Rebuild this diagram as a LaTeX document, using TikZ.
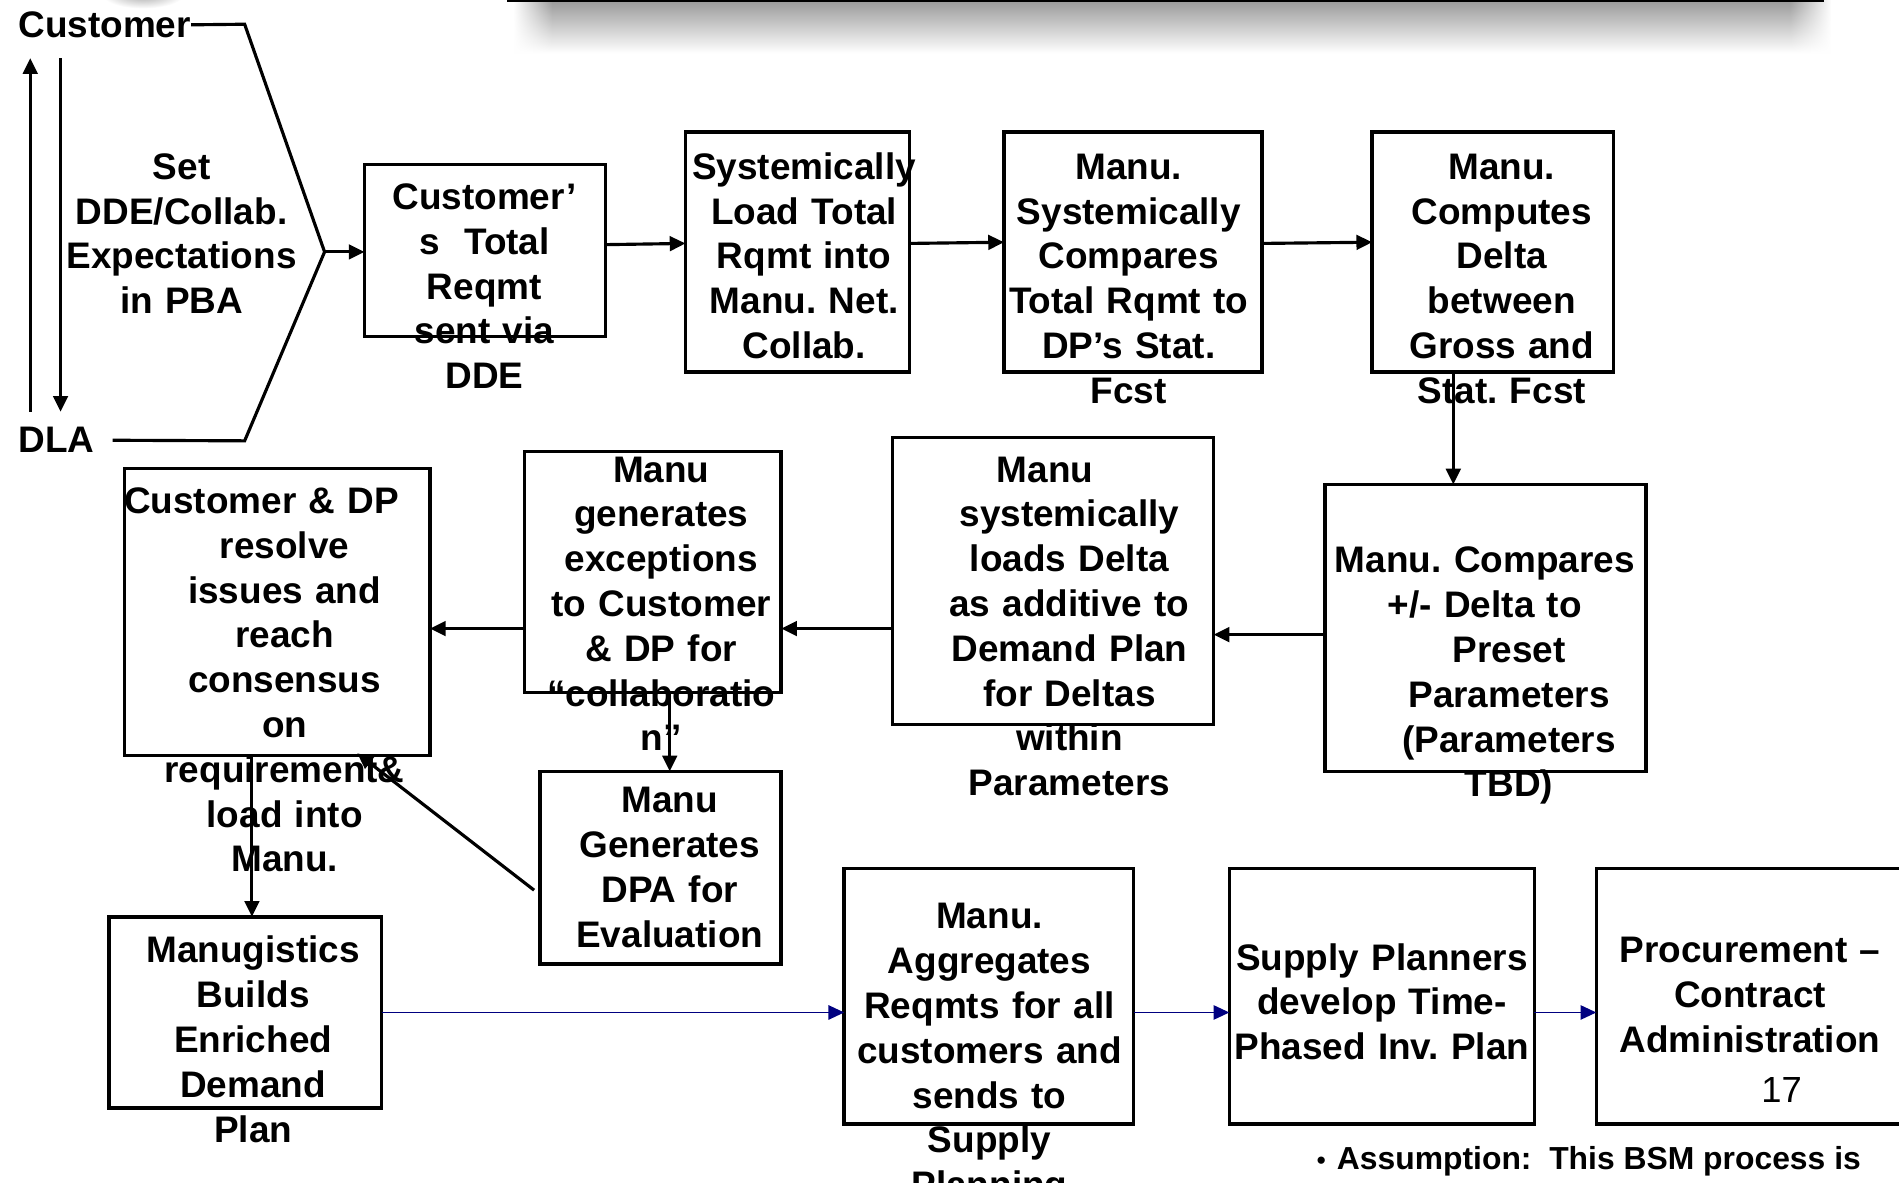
\documentclass[tikz,border=0pt]{standalone}
\usepackage{fontspec}
\setmainfont{Liberation Sans}
\usetikzlibrary{arrows.meta,fadings}
\definecolor{navyc}{RGB}{0,0,128}
\tikzfading[name=fadeL, left color=transparent!100, right color=transparent!0]
\tikzfading[name=fadeR, left color=transparent!0, right color=transparent!100]
\frenchspacing
\begin{document}
\begin{tikzpicture}[x=1pt,y=-1pt,
  boxn/.style={draw, line width=2.8pt, inner sep=0pt, outer sep=0pt, anchor=north west},
  txt/.style={font=\fontsize{30.5}{37}\selectfont\bfseries, text width=420pt, align=center, anchor=base, inner sep=0pt},
  lbl/.style={font=\fontsize{30.5}{37}\selectfont\bfseries, anchor=base west, inner sep=0pt},
  arr/.style={line width=2.6pt, -{Triangle[length=13pt,width=12pt]}},
  thinarr/.style={draw=navyc, line width=1pt, -{Triangle[length=13pt,width=12pt]}, fill=navyc},
  chev/.style={line width=2.6pt, line join=miter}]
\useasboundingbox (0,0) rectangle (1568,976);
\fill[white] (0,0) rectangle (1568,976);
% top shadow bar
\shade[top color=black!40, bottom color=white] (456,0) rectangle (1478,44);
\shade[top color=black!40, bottom color=white, path fading=fadeL] (424,0) rectangle (456,44);
\shade[top color=black!40, bottom color=white, path fading=fadeR] (1478,0) rectangle (1512,44);
\draw[line width=3pt] (419,0.5) -- (1506,0.5);
% top-left gray blob
\shade[inner color=gray!70, outer color=white] (118,-5) ellipse [x radius=34pt, y radius=12pt];

% left labels and chevron
\node[lbl] (cust) at (15,31) {Customer};
\node[lbl] (dla) at (15,374) {DLA};
\coordinate (c1) at (202,20);
\coordinate (tip) at (268,208);
\coordinate (c2) at (202,364);
\draw[chev] (cust.east) -- (c1) -- (tip) -- (c2) -- ([xshift=15pt]dla.east);
\coordinate (up0) at (25,340); \coordinate (up1) at (25,48);
\coordinate (dn0) at (50,48); \coordinate (dn1) at (50,340);
\draw[arr] (up0) -- (up1);
\draw[arr] (dn0) -- (dn1);
\node[txt] (settxt) at (150,148) {Set\\DDE/Collab.\\Expectations\\in PBA};

% boxes
\node[boxn, minimum width=199pt, minimum height=142pt] (A) at (301,136) {};
\node[boxn, minimum width=185pt, minimum height=198pt] (B) at (566,109) {};
\node[boxn, minimum width=213pt, minimum height=198pt] (C) at (829,109) {};
\node[boxn, minimum width=199pt, minimum height=198pt] (D) at (1133,109) {};
\node[boxn, minimum width=265pt, minimum height=237pt] (E) at (1094,400) {};
\node[boxn, minimum width=265pt, minimum height=237pt] (F) at (737,361) {};
\node[boxn, minimum width=212pt, minimum height=199pt] (G) at (433,373) {};
\node[boxn, minimum width=252pt, minimum height=237pt] (H) at (103,387) {};
\node[boxn, minimum width=199pt, minimum height=159pt] (I) at (446,637) {};
\node[boxn, minimum width=225pt, minimum height=158pt] (J) at (90,757) {};
\node[boxn, minimum width=239pt, minimum height=211pt] (K) at (697,717) {};
\node[boxn, minimum width=252pt, minimum height=211pt] (L) at (1015,717) {};
\node[boxn, minimum width=270pt, minimum height=211pt] (M) at (1318,717) {};

% texts
\node[txt] (tA) at (400,173) {Customer’\\s\ \ Total\\Reqmt\\sent via\\DDE};
\node[txt] (tB) at (664,148) {Systemically\\Load Total\\Rqmt into\\Manu. Net.\\Collab.};
\node[txt] (tC) at (932,148) {Manu.\\Systemically\\Compares\\Total Rqmt to\\DP’s Stat.\\Fcst};
\node[txt] (tD) at (1240,148) {Manu.\\Computes\\Delta\\between\\Gross and\\Stat. Fcst};
\node[txt] (tE) at (1246,473) {Manu. Compares\kern40pt\\+/- Delta to\kern40pt\\Preset\\Parameters\\(Parameters\\TBD)};
\node[txt] (tF) at (883,398) {Manu\kern40pt\\systemically\\loads Delta\\as additive to\\Demand Plan\\for Deltas\\within\\Parameters};
\node[txt] (tG) at (546,398) {Manu\\generates\\exceptions\\to Customer\\\& DP for\\“collaboratio\\n”};
\node[txt] (tH) at (235,424) {Customer \& DP\kern38pt\\resolve\\issues and\\reach\\consensus\\on\\requirement\&\\load into\\Manu.};
\node[txt] (tI) at (553,671) {Manu\\Generates\\DPA for\\Evaluation};
\node[txt] (tJ) at (209,795) {Manugistics\\Builds\\Enriched\\Demand\\Plan};
\node[txt] (tK) at (817,767) {Manu.\\Aggregates\\Reqmts for all\\customers and\\sends to\\Supply\\Planning};
\node[txt] (tL) at (1141,801) {Supply Planners\\develop Time-\\Phased Inv. Plan};
\node[txt] (tM) at (1445,795) {Procurement –\\Contract\\Administration};
\node[font=\fontsize{30}{36}\selectfont, anchor=base, inner sep=0pt] (pg) at (1471,910) {17};
\node[font=\fontsize{26.3}{32}\selectfont\bfseries, anchor=base west, inner sep=0pt] (note) at (1087,966) {{\mdseries\fontsize{22}{24}\selectfont\textbullet}\hspace{9pt}Assumption:\ \ This BSM process is};

% connectors
\draw[arr] (tip) -- ([yshift=-1pt]A.west);
\draw[arr] ([yshift=5pt]A.east) -- ([yshift=7pt]B.west);
\draw[arr] ([yshift=7pt]B.east) -- ([yshift=8pt]C.west);
\draw[arr] ([yshift=7pt]C.east) -- ([yshift=8pt]D.west);
\draw[arr] ([xshift=-32.5pt]D.south) -- ([xshift=-26.5pt]E.north);
\draw[arr] ([yshift=-5.5pt]E.west) -- ([yshift=-44.5pt]F.east);
\draw[arr] ([yshift=-39.5pt]F.west) -- ([yshift=-46.5pt]G.east);
\draw[arr] ([yshift=-46.5pt]G.west) -- ([yshift=-13.5pt]H.east);
\draw[arr] ([xshift=14pt]G.south) -- ([xshift=7.5pt]I.north);
\draw[arr] ([xshift=-21pt]H.south) -- ([xshift=5.5pt]J.north);
\draw[arr] ([xshift=-5pt,yshift=-18.5pt]I.west) -- ([xshift=66pt,yshift=2pt]H.south);
\draw[thinarr] (J.east) -- ([yshift=-13.5pt]K.west);
\draw[thinarr] ([yshift=-13.5pt]K.east) -- ([yshift=-13.5pt]L.west);
\draw[thinarr] ([yshift=-13.5pt]L.east) -- ([yshift=-13.5pt]M.west);
\end{tikzpicture}
\end{document}
